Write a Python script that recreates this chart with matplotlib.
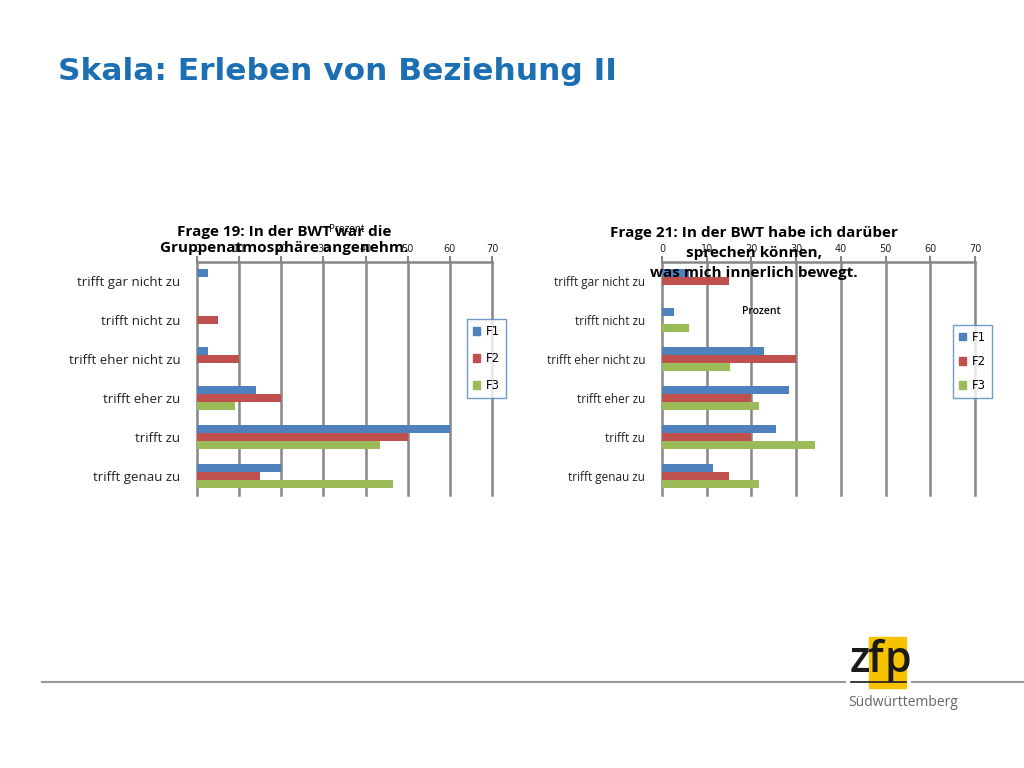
import matplotlib
matplotlib.use("Agg")
import matplotlib.pyplot as plt
import numpy as np
from matplotlib.patches import Rectangle, Patch

categories = ["trifft gar nicht zu", "trifft nicht zu", "trifft eher nicht zu",
              "trifft eher zu", "trifft zu", "trifft genau zu"]
series = ["F1", "F2", "F3"]
colors = ["#4F81BD", "#C0504D", "#9BBB59"]

# Frage 19 (Prozent)
q19_f1 = [2.5, 0, 2.5, 14, 60, 20]
q19_f2 = [0, 5, 10, 20, 50, 15]
q19_f3 = [0, 0, 0, 9, 43.5, 46.5]

# Frage 21 (Prozent)
q21_f1 = [6, 2.6, 22.7, 28.3, 25.6, 11.3]
q21_f2 = [15, 0, 30, 20, 20, 15]
q21_f3 = [0, 6, 15.3, 21.6, 34.2, 21.6]

ticks = [0, 10, 20, 30, 40, 50, 60, 70]
grid_col = "#868686"
font = "Open Sans"

fig = plt.figure(figsize=(10.24, 7.68), dpi=100)
fig.patch.set_facecolor("white")


def bar_chart(rect, data, label_size, legend_pos, leg_spacing):
    ax = fig.add_axes(rect)
    y = np.arange(len(categories))
    h = 0.205
    for i, vals in enumerate(data):
        ax.barh(y + (i - 1) * h, vals, height=h, color=colors[i], zorder=3)
    ax.set_xlim(0, 70)
    ax.set_ylim(len(categories) - 0.5, -0.5)
    ax.set_xticks(ticks)
    ax.xaxis.tick_top()
    ax.tick_params(axis="x", length=4, width=1.5, color=grid_col, labelsize=7,
                   labelcolor="#222222", pad=2)
    ax.set_yticks(y)
    ax.set_yticklabels(categories, fontsize=label_size, family=font, color="#222222")
    ax.tick_params(axis="y", length=0, pad=12)
    ax.grid(axis="x", color=grid_col, linewidth=1.8, zorder=0)
    for line in ax.get_xgridlines():
        line.set_clip_on(False)
    for s in ["bottom", "right", "left"]:
        ax.spines[s].set_visible(False)
    ax.spines["top"].set_color(grid_col)
    ax.spines["top"].set_linewidth(1.8)
    handles = [Patch(color=c, label=s) for c, s in zip(colors, series)]
    leg = ax.legend(handles=handles, loc="upper left", bbox_to_anchor=legend_pos,
                    fancybox=False, frameon=True, fontsize=8.5, handlelength=0.6,
                    handleheight=0.6, handletextpad=0.5, labelspacing=leg_spacing,
                    borderpad=0.5, borderaxespad=0)
    leg.get_frame().set_edgecolor("#4F81BD")
    leg.get_frame().set_linewidth(1)
    return ax


ax1 = bar_chart([197 / 1024, 1 - 495 / 768, 295 / 1024, 233 / 768],
                [q19_f1, q19_f2, q19_f3], 9.5, (0.915, 0.755), 1.2)
ax2 = bar_chart([662 / 1024, 1 - 495 / 768, 313 / 1024, 233 / 768],
                [q21_f1, q21_f2, q21_f3], 8.5, (0.93, 0.73), 0.95)

# chart titles and axis labels
fig.text(284 / 1024, 1 - 240 / 768, "Frage 19: In der BWT war die\nGruppenatmosphäre angenehm.",
         ha="center", va="center", fontsize=11, fontweight="bold", family=font,
         linespacing=1.25, zorder=5)
fig.text(347 / 1024, 1 - 230 / 768, "Prozent", ha="center", va="center",
         fontsize=7, family=font)
fig.text(754 / 1024, 1 - 253 / 768,
         "Frage 21: In der BWT habe ich darüber\nsprechen können,\nwas mich innerlich bewegt.",
         ha="center", va="center", fontsize=11, fontweight="bold", family=font,
         linespacing=1.5, zorder=5)
fig.text(761 / 1024, 1 - 311 / 768, "Prozent", ha="center", va="center",
         fontsize=7.5, fontweight="semibold", family=font)

# slide title
fig.text(58 / 1024, 1 - 72 / 768, "Skala: Erleben von Beziehung II", ha="left",
         va="center", fontsize=22.5, fontweight="bold", color="#1C6FB3",
         family="DejaVu Sans")

# footer line and logo
fig.add_artist(plt.Line2D([42 / 1024, 845 / 1024], [1 - 682 / 768] * 2,
                          color="#9A9A9A", linewidth=1.5))
fig.add_artist(plt.Line2D([912 / 1024, 1.0], [1 - 682 / 768] * 2,
                          color="#9A9A9A", linewidth=1.5))
fig.add_artist(Rectangle((869 / 1024, 1 - 688 / 768), 37 / 1024, 51 / 768,
                         transform=fig.transFigure, color="#F7C200", zorder=1))
for letter, lx in zip("zfp", [850, 867, 884]):
    fig.text(lx / 1024, 1 - 672 / 768, letter, ha="left", va="baseline",
             fontsize=31, fontweight="semibold", color="#1A1A1A", family=font,
             zorder=2)
fig.add_artist(plt.Line2D([851 / 1024, 906 / 1024], [1 - 682 / 768] * 2,
                          color="#1A1A1A", linewidth=1.2, zorder=3))
fig.text(848 / 1024, 1 - 703 / 768, "Südwürttemberg", ha="left", va="center",
         fontsize=10, color="#666666", family=font)

fig.savefig("out.png", dpi=100)
